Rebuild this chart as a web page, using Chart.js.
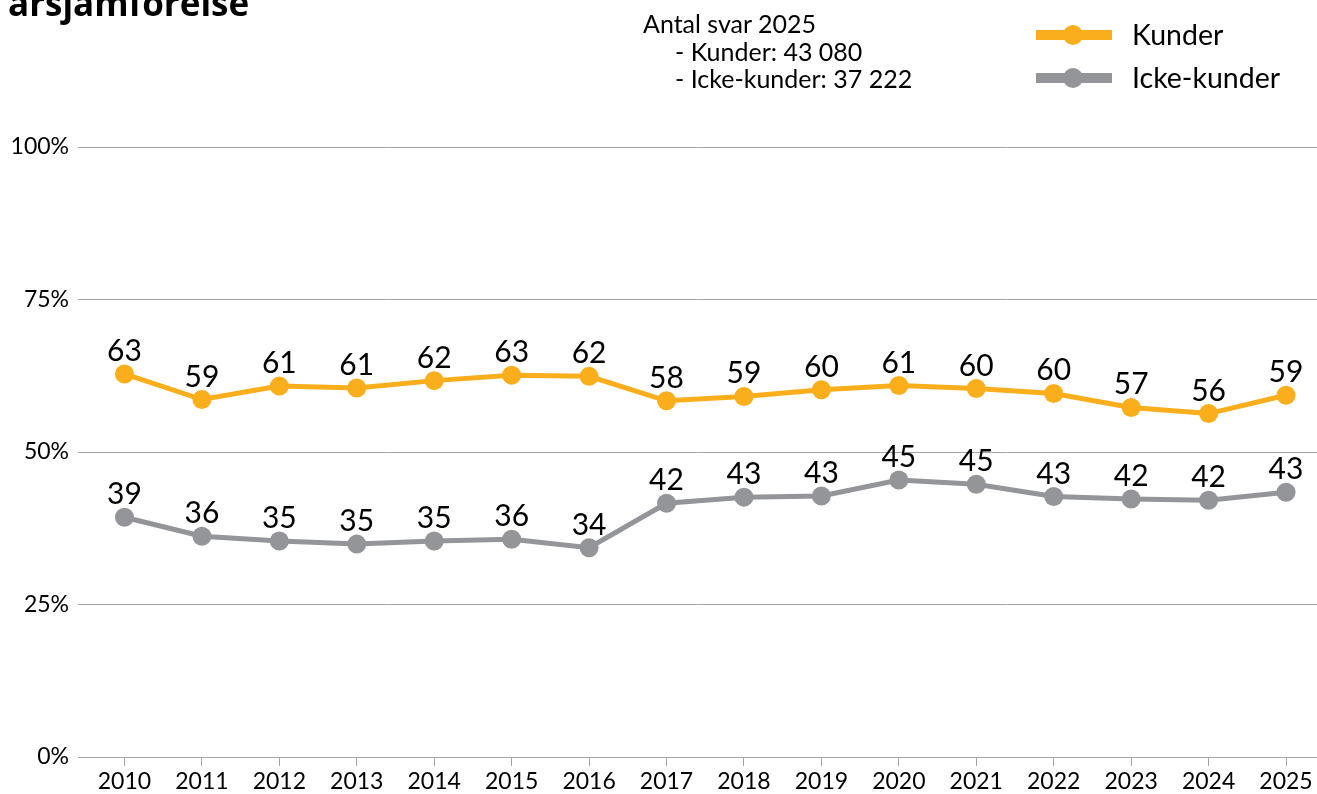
<!DOCTYPE html>
<html>
<head>
<meta charset="utf-8">
<script src="https://cdn.jsdelivr.net/npm/chart.js@4"></script>
<style>
  html, body { margin: 0; padding: 0; background: #fff; overflow: hidden; }
  #wrap { position: relative; width: 1317px; height: 794px; }
  #title { position: absolute; left: 8px; top: -15px; font: bold 35px "Open Sans", sans-serif; line-height: 35px; color: #000; white-space: nowrap; }
  #note { position: absolute; left: 643px; top: 10px; font: 25px Lato, sans-serif; line-height: 27.5px; color: #000; white-space: pre; }
</style>
</head>
<body>
<div id="wrap">
  <canvas id="chart" width="1317" height="794"></canvas>
  <div id="title">årsjamförelse</div>
  <div id="note">Antal svar 2025
     - Kunder: 43 080
     - Icke-kunder: 37 222</div>
</div>
<script>
// data
const years = [2010, 2011, 2012, 2013, 2014, 2015, 2016, 2017, 2018, 2019, 2020, 2021, 2022, 2023, 2024, 2025];
const kunder = [62.8, 58.6, 60.8, 60.5, 61.7, 62.6, 62.4, 58.4, 59.1, 60.2, 60.9, 60.4, 59.6, 57.3, 56.3, 59.3];
const ickeKunder = [39.3, 36.2, 35.4, 34.9, 35.4, 35.7, 34.3, 41.6, 42.6, 42.8, 45.4, 44.7, 42.7, 42.3, 42.1, 43.4];
const yTicks = [0, 25, 50, 75, 100];

const orange = '#fbae1b';
const grey = '#939598';
const gridColor = '#a6a6a6';

// value labels above every point
const valueLabels = {
    id: 'valueLabels',
    afterDatasetsDraw(chart) {
        const ctx = chart.ctx;
        ctx.save();
        ctx.font = '30px Lato';
        ctx.fillStyle = '#000';
        ctx.textAlign = 'center';
        ctx.textBaseline = 'alphabetic';
        chart.data.datasets.forEach((ds, i) => {
            chart.getDatasetMeta(i).data.forEach((pt, j) => {
                ctx.fillText(Math.round(ds.data[j].y), pt.x, pt.y - 13);
            });
        });
        ctx.restore();
    }
};

// legend top right: thick line with a dot
const sideLegend = {
    id: 'sideLegend',
    afterDraw(chart) {
        const ctx = chart.ctx;
        ctx.save();
        chart.data.datasets.forEach((ds, i) => {
            const y = 35 + i * 43;
            ctx.strokeStyle = ds.borderColor;
            ctx.lineWidth = 10;
            ctx.beginPath();
            ctx.moveTo(1036, y);
            ctx.lineTo(1112, y);
            ctx.stroke();
            ctx.fillStyle = ds.borderColor;
            ctx.beginPath();
            ctx.arc(1073, y, 10, 0, Math.PI * 2);
            ctx.fill();
            ctx.fillStyle = '#000';
            ctx.font = '28.5px Lato';
            ctx.textBaseline = 'middle';
            ctx.fillText(ds.label, 1132, y + 1);
        });
        ctx.restore();
    }
};

function series(values) {
    return values.map((v, i) => ({ x: years[i], y: v }));
}

new Chart(document.getElementById('chart'), {
    type: 'line',
    data: {
        datasets: [{
            label: 'Kunder',
            data: series(kunder),
            borderColor: orange,
            backgroundColor: orange,
            borderWidth: 5,
            pointRadius: 9.5,
            pointHoverRadius: 9.5,
            pointBorderWidth: 0,
        }, {
            label: 'Icke-kunder',
            data: series(ickeKunder),
            borderColor: grey,
            backgroundColor: grey,
            borderWidth: 5,
            pointRadius: 9.5,
            pointHoverRadius: 9.5,
            pointBorderWidth: 0,
        }],
    },
    options: {
        responsive: false,
        animation: false,
        layout: { autoPadding: false, padding: { top: 147, left: 0, right: 0, bottom: 0 } },
        plugins: {
            legend: { display: false },
            tooltip: { enabled: false },
        },
        scales: {
            x: {
                type: 'linear',
                min: 2009.4,
                max: 2025.4,
                afterBuildTicks: (axis) => { axis.ticks = years.map(v => ({ value: v })); },
                afterFit: (axis) => {
                    axis.height = 37;
                    axis.paddingLeft = 0;
                    axis.paddingRight = 0;
                },
                grid: { drawOnChartArea: false, color: gridColor, tickLength: 9 },
                border: { color: gridColor },
                ticks: {
                    autoSkip: false,
                    maxRotation: 0,
                    padding: 2,
                    color: '#000',
                    font: { family: 'Lato', size: 23 },
                    callback: (v) => String(v),
                },
            },
            y: {
                min: 0,
                max: 100,
                afterBuildTicks: (axis) => { axis.ticks = yTicks.map(v => ({ value: v })); },
                afterFit: (axis) => { axis.width = 78; },
                grid: { color: gridColor, drawTicks: false },
                border: { display: false },
                ticks: {
                    padding: 9,
                    color: '#000',
                    font: { family: 'Lato', size: 23 },
                    callback: (v) => v + '%',
                },
            },
        },
    },
    plugins: [valueLabels, sideLegend],
});
</script>
</body>
</html>
